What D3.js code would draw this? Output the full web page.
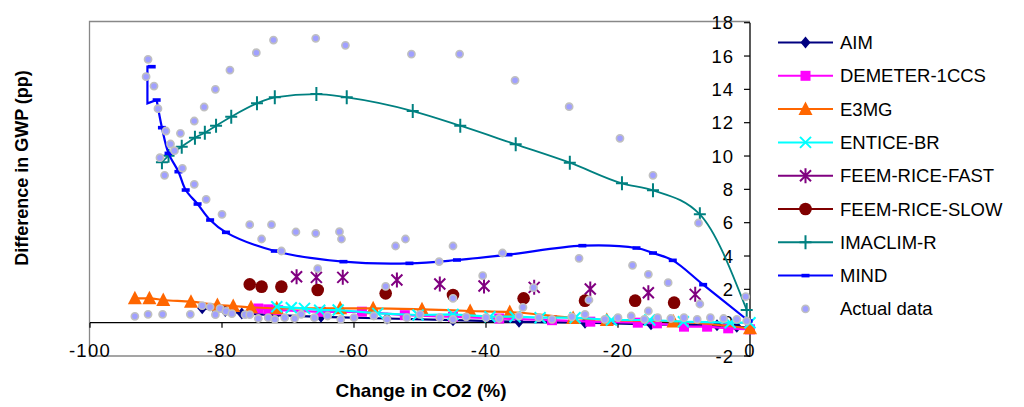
<!DOCTYPE html>
<html>
<head>
<meta charset="utf-8">
<script src="https://cdn.jsdelivr.net/npm/d3@7"></script>
<style>
  body { margin: 0; background: #fff; }
  svg text { font-family: "Liberation Sans", Arial, sans-serif; fill: #000; }
</style>
</head>
<body>
<div id="chart"></div>
<script>
// DATA (x = change in CO2 %, y = difference in GWP pp)
const xTicks = [-100, -80, -60, -40, -20, 0];
const yTicks = [-2, 0, 2, 4, 6, 8, 10, 12, 14, 16, 18];

const aimData = [[-83, 0.86], [-81, 0.8], [-79.5, 0.7], [-77, 0.55], [-72, 0.45], [-65, 0.35], [-55, 0.25],
  [-45, 0.15], [-35, 0.05], [-25, 0.0], [-15, -0.1], [-5, -0.15], [-2, -0.25], [0, -0.3]];
const demeterData = [[-74.5, 0.85], [-73, 0.8], [-71.5, 0.75], [-65, 0.65], [-58.8, 0.66], [-52.3, 0.45],
  [-45, 0.35], [-38, 0.25], [-30, 0.15], [-24.2, 0.06], [-17, 0.0], [-14.1, -0.04], [-10, -0.24],
  [-6.5, -0.24], [-3.3, -0.34], [0, -0.4]];
const e3mgData = [[-93.2, 1.46], [-91, 1.46], [-88.9, 1.36], [-84.7, 1.26], [-80.7, 1.06], [-78.3, 1.0],
  [-75.6, 0.92], [-71.7, 0.86], [-62.1, 0.86], [-57.1, 0.86], [-49.7, 0.8], [-42.4, 0.7], [-36.4, 0.64],
  [-26.8, 0.28], [-21.7, 0.16], [-11.6, 0.07], [0, -0.34]];
const enticeData = [[-71.7, 0.96], [-69.5, 0.9], [-67.5, 0.86], [-65.2, 0.75], [-62.4, 0.76], [-56.4, 0.56],
  [-50.3, 0.46], [-45, 0.5], [-39.4, 0.36], [-35.6, 0.36], [-31.8, 0.3], [-26.5, 0.3], [-21, 0.16],
  [-15.2, 0.16], [-10.1, 0.06], [-3, 0.0], [0, 0.0]];
const feemFastData = [[-68.7, 2.76], [-65.7, 2.72], [-61.7, 2.72], [-53.5, 2.56], [-47, 2.32], [-40.3, 2.2],
  [-32.7, 2.12], [-24.2, 2.02], [-15.4, 1.8], [-8.3, 1.7]];
const feemSlowData = [[-75.8, 2.3], [-74, 2.16], [-71, 2.16], [-65.5, 1.96], [-55.2, 1.76], [-45, 1.66],
  [-34.3, 1.46], [-25, 1.32], [-17.4, 1.32], [-11.5, 1.2]];
const imaclimData = [[-89.1, 9.62], [-88.1, 10.02], [-86.1, 10.56], [-84.1, 11.1], [-82.6, 11.4], [-80.9, 11.82],
  [-78.6, 12.36], [-74.7, 13.16], [-72, 13.52], [-65.7, 13.72], [-61.1, 13.52], [-51.1, 12.7], [-43.9, 11.82],
  [-35.5, 10.7], [-27.3, 9.6], [-19.4, 8.36], [-14.7, 7.94], [-7.6, 6.5], [-0.5, 0.76]];
// first four points of MIND form the small bracket at the top left
const mindData = [[-90.65, 15.36], [-91.3, 15.36], [-91.3, 13.16], [-89.9, 13.36], [-89.1, 11.7], [-88.1, 10.16],
  [-86.6, 9.06], [-85.5, 7.96], [-83.7, 7.12], [-81.8, 6.16], [-79.4, 5.42], [-72, 4.3], [-61.6, 3.66],
  [-51.6, 3.56], [-44.4, 3.76], [-36.6, 4.08], [-25.4, 4.62], [-17.2, 4.48], [-14.7, 4.18], [-11.7, 3.74],
  [-7.1, 2.28], [-0.2, 0.1]];
const actualData = [[-91.2, 15.8], [-91.5, 14.76], [-90.3, 14.2], [-89.7, 12.84], [-88.5, 11.5], [-86.3, 11.36],
  [-87.8, 10.72], [-87.2, 10.32], [-89.4, 9.9], [-86, 9.26], [-88.7, 8.84], [-84.2, 8.3], [-82.4, 7.4],
  [-82.7, 12.94], [-84.2, 12.1], [-81, 14.0], [-78.8, 15.16], [-74.8, 16.2], [-72.2, 16.96], [-65.8, 17.06],
  [-61.3, 16.64], [-51.3, 16.12], [-44, 16.12], [-35.6, 14.54], [-27.4, 12.96], [-19.7, 11.06], [-14.7, 8.84],
  [-7.8, 5.98], [-0.65, 1.56], [-80, 6.5], [-75.8, 5.88], [-72.5, 5.88], [-74, 5.02], [-68.8, 5.44], [-71, 4.3],
  [-65.8, 5.36], [-62.2, 5.46], [-61.9, 5.02], [-53.7, 4.6], [-52.2, 5.02], [-45, 4.6], [-37.5, 4.18],
  [-47.1, 3.66], [-65.5, 3.24], [-55.2, 2.18], [-40.5, 2.82], [-45, 1.46], [-32.8, 2.1], [-34.4, 0.92],
  [-25.9, 3.86], [-17.8, 3.44], [-15.4, 2.9], [-12.4, 2.4], [-7.6, 1.12], [-24.4, 1.36], [-15.4, 0.7],
  [-25, 0.5], [-93.2, 0.38], [-91.2, 0.5], [-89, 0.5], [-84.8, 0.5], [-83, 1.02], [-81.8, 0.94], [-80.3, 0.84],
  [-81, 0.48], [-79.4, 0.68], [-78.5, 0.54], [-76.5, 0.48], [-75.8, 0.48], [-74.5, 0.25], [-73, 0.3],
  [-72, 0.2], [-70.5, 0.3], [-69, 0.25], [-68, 0.5], [-66, 0.3], [-64, 0.4], [-62, 0.2], [-60, 0.3],
  [-57, 0.4], [-55, 0.2], [-52, 0.3], [-50, 0.5], [-47, 0.3], [-45, 0.2], [-43, 0.35], [-40, 0.3],
  [-38, 0.25], [-35, 0.4], [-32, 0.3], [-30, 0.2], [-27, 0.35], [-22, 0.2], [-20, 0.3], [-18, 0.4],
  [-16, 0.2], [-14, 0.3], [-12, 0.25], [-10, 0.3], [-8, 0.2], [-6, 0.3], [-4, 0.25], [-2, 0.2], [-0.5, 0.1]];

const seriesNames = ["AIM", "DEMETER-1CCS", "E3MG", "ENTICE-BR", "FEEM-RICE-FAST", "FEEM-RICE-SLOW", "IMACLIM-R", "MIND", "Actual data"];

//SERIES STYLES
const series = [
  { name: seriesNames[0], data: aimData, color: "#000080", marker: "diamond", line: true },
  { name: seriesNames[1], data: demeterData, color: "#ff00ff", marker: "square", line: true },
  { name: seriesNames[2], data: e3mgData, color: "#ff6600", marker: "triangle", line: true, curve: d3.curveMonotoneX },
  { name: seriesNames[3], data: enticeData, color: "#00ffff", marker: "x", line: true },
  { name: seriesNames[4], data: feemFastData, color: "#800080", marker: "asterisk", line: false },
  { name: seriesNames[5], data: feemSlowData, color: "#800000", marker: "circle", line: false },
  { name: seriesNames[6], data: imaclimData, color: "#008080", marker: "plus", line: true, curve: d3.curveMonotoneX },
  { name: seriesNames[7], data: mindData, color: "#0000ff", marker: "dash", line: true },
  { name: seriesNames[8], data: actualData, color: "#a0a0ff", marker: "dot", line: false }
];

let width = 1024, height = 407;
let svg = d3.select("#chart").append("svg")
  .attr("width", width)
  .attr("height", height);

let x = d3.scaleLinear().domain([-100, 0]).range([90, 750]);
let y = d3.scaleLinear().domain([-2, 18]).range([356, 22.7]);

//Plot frame (grey)
svg.append("path")
  .attr("d", "M750,21.5H89.5V356H750")
  .attr("fill", "none")
  .attr("stroke", "#888")
  .attr("stroke-width", 1.3);

//X axis at y = 0
let xAxis = svg.append("g").attr("transform", "translate(0," + y(0) + ")");
xAxis.append("line").attr("x1", x(-100)).attr("x2", x(0)).attr("stroke", "#000").attr("stroke-width", 1.3);
xAxis.selectAll(".tick").data(xTicks).enter().append("line")
  .attr("x1", d => x(d)).attr("x2", d => x(d))
  .attr("y1", 0).attr("y2", 5)
  .attr("stroke", "#000").attr("stroke-width", 1.2);
svg.selectAll(".xlab").data(xTicks).enter().append("text")
  .attr("x", d => x(d))
  .attr("y", 357)
  .attr("text-anchor", "middle")
  .attr("font-size", 18.5)
  .attr("letter-spacing", "1.3px")
  .text(d => d);

//Y axis on the right (at x = 0)
svg.append("line")
  .attr("x1", x(0)).attr("x2", x(0))
  .attr("y1", y(18)).attr("y2", y(-2))
  .attr("stroke", "#000").attr("stroke-width", 1.3);
svg.selectAll(".ytick").data(yTicks).enter().append("line")
  .attr("x1", x(0) - 6).attr("x2", x(0))
  .attr("y1", d => y(d)).attr("y2", d => y(d))
  .attr("stroke", "#000").attr("stroke-width", 1.2);
svg.selectAll(".ylab").data(yTicks).enter().append("text")
  .attr("x", x(0) - 16)
  .attr("y", d => y(d) + 6.5)
  .attr("text-anchor", "end")
  .attr("font-size", 18.5)
  .attr("letter-spacing", "1px")
  .text(d => d);

//Axis titles
svg.append("text")
  .attr("x", 421)
  .attr("y", 397)
  .attr("text-anchor", "middle")
  .attr("font-size", 19)
  .attr("font-weight", "bold")
  .text("Change in CO2 (%)");
svg.append("text")
  .attr("transform", "translate(28,168) rotate(-90)")
  .attr("text-anchor", "middle")
  .attr("font-size", 18)
  .attr("font-weight", "bold")
  .text("Difference in GWP (pp)");

//Marker shapes
function markerPath(type) {
  if (type == "diamond") return "M0,-6L5,0L0,6L-5,0Z";
  if (type == "square") return "M-5,-5H5V5H-5Z";
  if (type == "triangle") return "M0,-7.5L7,6H-7Z";
  if (type == "x") return "M-5.5,-5.5L5.5,5.5M-5.5,5.5L5.5,-5.5";
  if (type == "asterisk") return "M-5.5,-5.5L5.5,5.5M-5.5,5.5L5.5,-5.5M0,-7.5V7.5";
  if (type == "plus") return "M-6,0H6M0,-7V7";
  if (type == "dash") return "M-4,-1.8H4V1.8H-4Z";
  return "";
}

function drawMarker(g, type, color) {
  if (type == "circle") {
    g.append("circle").attr("r", 6.3).attr("fill", color);
  } else if (type == "dot") {
    g.append("circle").attr("r", 3.6).attr("fill", "#a0a0ff").attr("stroke", "#c0c0c0").attr("stroke-width", 1.6);
  } else if (type == "x" || type == "asterisk" || type == "plus") {
    g.append("path").attr("d", markerPath(type)).attr("fill", "none").attr("stroke", color).attr("stroke-width", 2);
  } else {
    g.append("path").attr("d", markerPath(type)).attr("fill", color);
  }
}

//Draw the series, in Excel order
series.forEach(function (s) {
  let g = svg.append("g");
  if (s.line) {
    let pieces = [s.data];
    let curves = [s.curve || d3.curveLinear];
    //MIND: sharp bracket, then a smooth curve for the rest
    if (s.marker == "dash") {
      pieces = [s.data.slice(0, 4), s.data.slice(3)];
      curves = [d3.curveLinear, d3.curveCatmullRom.alpha(0.5)];
    }
    pieces.forEach(function (p, k) {
      let line = d3.line()
        .x(d => x(d[0]))
        .y(d => y(d[1]))
        .curve(curves[k]);
      g.append("path")
        .attr("d", line(p))
        .attr("fill", "none")
        .attr("stroke", s.color)
        .attr("stroke-width", s.marker == "plus" ? 1.8 : 2.2);
    });
  }
  let pts = s.data;
  //the bracket corners of MIND have no markers
  if (s.marker == "dash") pts = s.data.filter((d, i) => i != 1 && i != 2);
  pts.forEach(function (d) {
    let m = g.append("g").attr("transform", "translate(" + x(d[0]) + "," + y(d[1]) + ")");
    drawMarker(m, s.marker, s.color);
  });
});

//Legend
let legend = svg.append("g");
series.forEach(function (s, i) {
  let ly = 42.5 + i * 33.3;
  let row = legend.append("g").attr("transform", "translate(0," + ly + ")");
  if (s.marker != "dot") {
    row.append("line").attr("x1", 778).attr("x2", 833).attr("stroke", s.color).attr("stroke-width", 2);
  }
  let m = row.append("g").attr("transform", "translate(805.5,0)");
  drawMarker(m, s.marker, s.color);
  row.append("text")
    .attr("x", 840)
    .attr("y", 6.5)
    .attr("font-size", 18.5)
    .text(s.name);
});
</script>
</body>
</html>
